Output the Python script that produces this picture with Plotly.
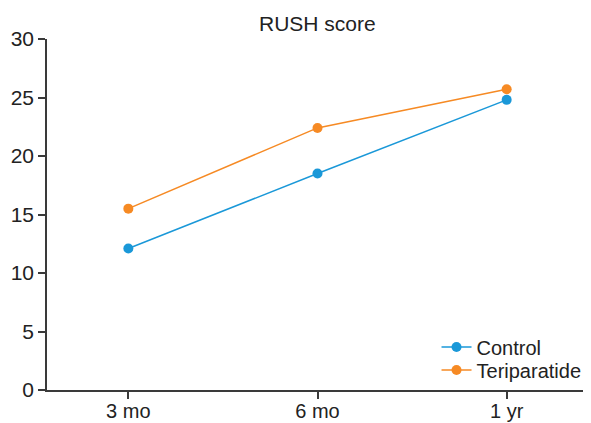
import plotly.graph_objects as go

categories = ["3 mo", "6 mo", "1 yr"]
control = [12.1, 18.5, 24.8]
teriparatide = [15.5, 22.4, 25.7]
y_ticks = [0, 5, 10, 15, 20, 25, 30]

blue = "#1a98d8"
orange = "#f68a24"
axis_col = "#3a3a3a"
txt_col = "#222222"
font = dict(family="Liberation Sans, Arial, sans-serif", size=21, color=txt_col)

xpos = list(range(len(categories)))

fig = go.Figure()
fig.add_trace(go.Scatter(x=xpos, y=control, mode="lines+markers", name="Control",
                         line=dict(color=blue, width=1.5),
                         marker=dict(color=blue, size=10), legend="legend"))
fig.add_trace(go.Scatter(x=xpos, y=teriparatide, mode="lines+markers", name="Teriparatide",
                         line=dict(color=orange, width=1.5),
                         marker=dict(color=orange, size=10), legend="legend2"))

leg = dict(xanchor="left", yanchor="middle", bgcolor="rgba(0,0,0,0)",
           font=dict(size=20), borderwidth=0)

# page body has an 8px default margin, so the figure is sized 8px smaller
W, H = 583, 415
ml, mt, mb = 39, 31, 33
mr = W - 580
plot_h = H - mt - mb

xmax = 2.43
fig.update_layout(
    width=W, height=H,
    margin=dict(l=ml, r=mr, t=mt, b=mb, autoexpand=False),
    paper_bgcolor="white", plot_bgcolor="white",
    font=font,
    showlegend=True,
    legend=dict(leg, x=0.72, y=0.1225),
    legend2=dict(leg, x=0.72, y=0.057),
    annotations=[dict(text="RUSH score", xref="paper", yref="paper", x=0.5,
                      y=(H - mb - 15) / plot_h,
                      xanchor="center", yanchor="middle", showarrow=False,
                      font=dict(size=21, color=txt_col))],
    xaxis=dict(range=[-0.43, xmax], tickvals=xpos + [xmax], ticktext=categories + [""],
               showgrid=False, zeroline=False, showline=True, linecolor=axis_col, linewidth=1.5,
               ticks="outside", ticklen=7, tickwidth=1.5, tickcolor=axis_col,
               automargin=False, tickfont=dict(size=20), ticklabelstandoff=-5),
    yaxis=dict(range=[0, 30], tickvals=y_ticks, showgrid=False, zeroline=False,
               showline=True, linecolor=axis_col, linewidth=1.5,
               ticks="outside", ticklen=7, tickwidth=1.5, tickcolor=axis_col,
               automargin=False, tickfont=dict(size=21)),
)

fig.write_html("out.html")
